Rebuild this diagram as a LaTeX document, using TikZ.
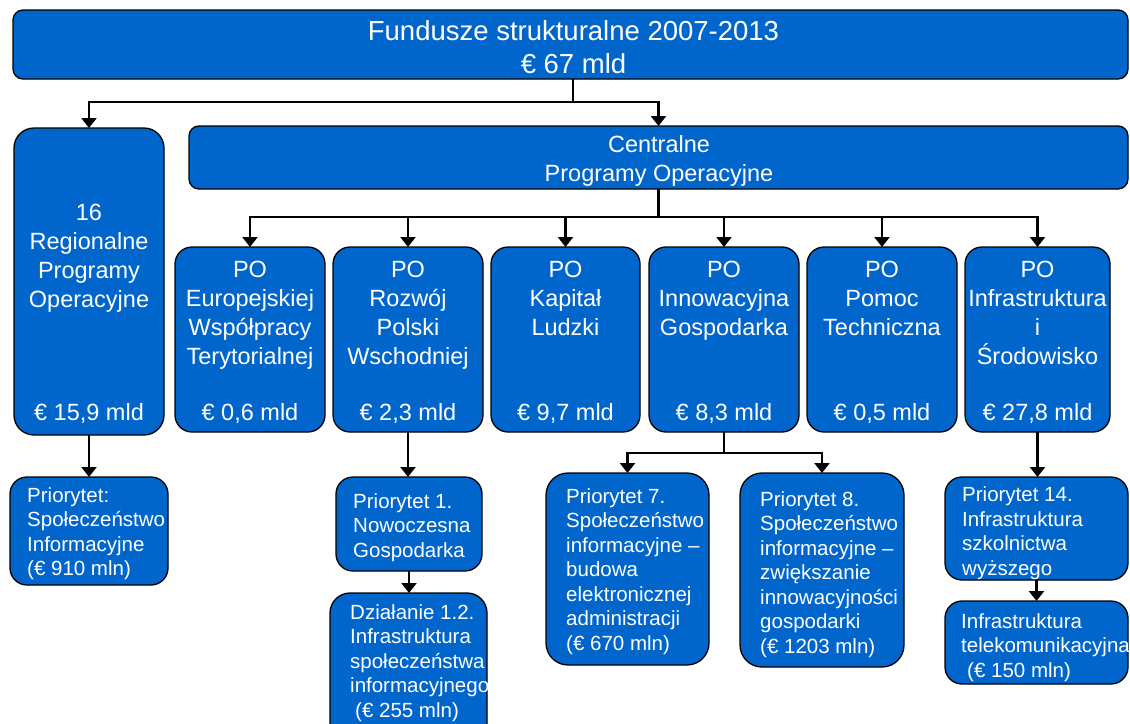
\documentclass[tikz,border=0pt]{standalone}
\usepackage{fontspec}
\setmainfont{Liberation Sans}
\usetikzlibrary{arrows.meta}
\definecolor{boxblue}{RGB}{0,102,204}
\tikzset{
 box/.style={draw=black, line width=1.3pt, fill=boxblue, inner sep=0pt, outer sep=0pt},
 arr/.style={line width=2.3pt, -{Triangle[width=15pt,length=10pt]}},
 big/.style={text=white, font=\fontsize{27.5}{33}\selectfont, inner sep=0pt, align=center, anchor=base},
 mid/.style={text=white, font=\fontsize{23.5}{29}\selectfont, inner sep=0pt, align=center, anchor=base},
 sml/.style={text=white, font=\fontsize{20.5}{24.5}\selectfont, inner sep=0pt, align=left, anchor=base west},
}
\newcommand\bx[6]{\node[box, rounded corners=#6pt, minimum width={(#4-#2)*1pt}, minimum height={(#5-#3)*1pt}] (#1) at ({(#2+#4)/2},{(#3+#5)/2}) {};}
\begin{document}
\begin{tikzpicture}[x=1pt,y=-1pt]
\useasboundingbox (0,0) rectangle (1130,723);
\clip (0,0) rectangle (1130,723);
\bx{top}{13}{10}{1128}{79}{10}
\bx{reg}{14}{128}{164}{435}{20}
\bx{cent}{189}{126}{1128}{189}{10}
\bx{poa}{175}{247}{325}{432}{17}
\bx{pob}{333}{247}{483}{432}{17}
\bx{poc}{491}{247}{640}{432}{17}
\bx{pod}{649}{247}{799}{432}{17}
\bx{poe}{807}{247}{957}{432}{17}
\bx{pof}{965}{247}{1110}{432}{17}
\bx{pri}{10}{477}{168}{585}{17}
\bx{p1}{336}{477}{482}{571}{17}
\bx{dz}{330}{593}{487}{745}{20}
\bx{p7}{546}{473}{709}{665}{22}
\bx{p8}{740}{473}{904}{667}{22}
\bx{p14}{945}{477}{1128}{580}{17}
\bx{tel}{945}{601}{1128}{684}{17}
% connectors
\coordinate (j0) at ([xshift=2.5pt]top.south);
\draw[arr] (j0) -- ++(0,23) -| (reg.north);
\draw[arr] (j0) -- ++(0,23) -| (cent.north);
\foreach \n in {poa,pob,poc,pod,poe,pof}{\draw[arr] (cent.south) -- ++(0,28) -| (\n.north);}
\draw[arr] (reg.south) -- (reg.south |- pri.north);
\draw[arr] (pob.south) -- (pob.south |- p1.north);
\draw[arr] (p1.south) -- (p1.south |- dz.north);
\draw[arr] (pod.south) -- ++(0,21) -| (p7.north);
\draw[arr] (pod.south) -- ++(0,21) -| (p8.north);
\draw[arr] (pof.south) -- (pof.south |- p14.north);
\draw[arr] (p14.south) -- (p14.south |- tel.north);
% texts (anchor = baseline of last line)
\node[big] (t1) at (573.5,73) {Fundusze strukturalne 2007-2013\\€ 67 mld};
\node[mid] (tc) at (659,181) {Centralne\\Programy Operacyjne};
\node[mid] (tr) at (89,307) {16\\Regionalne\\Programy\\Operacyjne};
\node[mid] (trm) at (89,420) {€ 15,9 mld};
\node[mid] (ta) at (250,364) {PO\\Europejskiej\\Współpracy\\Terytorialnej};
\node[mid] (tb) at (408,364) {PO\\Rozwój\\Polski\\Wschodniej};
\node[mid] (tcc) at (565.5,335) {PO\\Kapitał\\Ludzki};
\node[mid] (td) at (724,335) {PO\\Innowacyjna\\Gospodarka};
\node[mid] (te) at (882,335) {PO\\Pomoc\\Techniczna};
\node[mid] (tf) at (1037.5,364) {PO\\Infrastruktura\\i\\Środowisko};
\node[mid] (ma) at (250,420) {€ 0,6 mld};
\node[mid] (mb) at (408,420) {€ 2,3 mld};
\node[mid] (mc) at (565.5,420) {€ 9,7 mld};
\node[mid] (md) at (724,420) {€ 8,3 mld};
\node[mid] (me) at (882,420) {€ 0,5 mld};
\node[mid] (mf) at (1037.5,420) {€ 27,8 mld};
\node[sml] (s0) at (27,575.5) {Priorytet:\\Społeczeństwo\\Informacyjne\\(€ 910 mln)};
\node[sml] (s1) at (353,557) {Priorytet 1.\\Nowoczesna\\Gospodarka};
\node[sml] (s2) at (350,717) {Działanie 1.2.\\Infrastruktura\\społeczeństwa\\informacyjnego\\\hspace{5pt}(€ 255 mln)};
\node[sml] (s7) at (566,650) {Priorytet 7.\\Społeczeństwo\\informacyjne –\\budowa\\elektronicznej\\administracji\\(€ 670 mln)};
\node[sml] (s8) at (760,653) {Priorytet 8.\\Społeczeństwo\\informacyjne –\\zwiększanie\\innowacyjności\\gospodarki\\(€ 1203 mln)};
\node[sml] (s14) at (962,575) {Priorytet 14.\\Infrastruktura\\szkolnictwa\\wyższego};
\node[sml] (st) at (961,677) {Infrastruktura\\telekomunikacyjna\\\hspace{6pt}(€ 150 mln)};
\end{tikzpicture}
\end{document}
